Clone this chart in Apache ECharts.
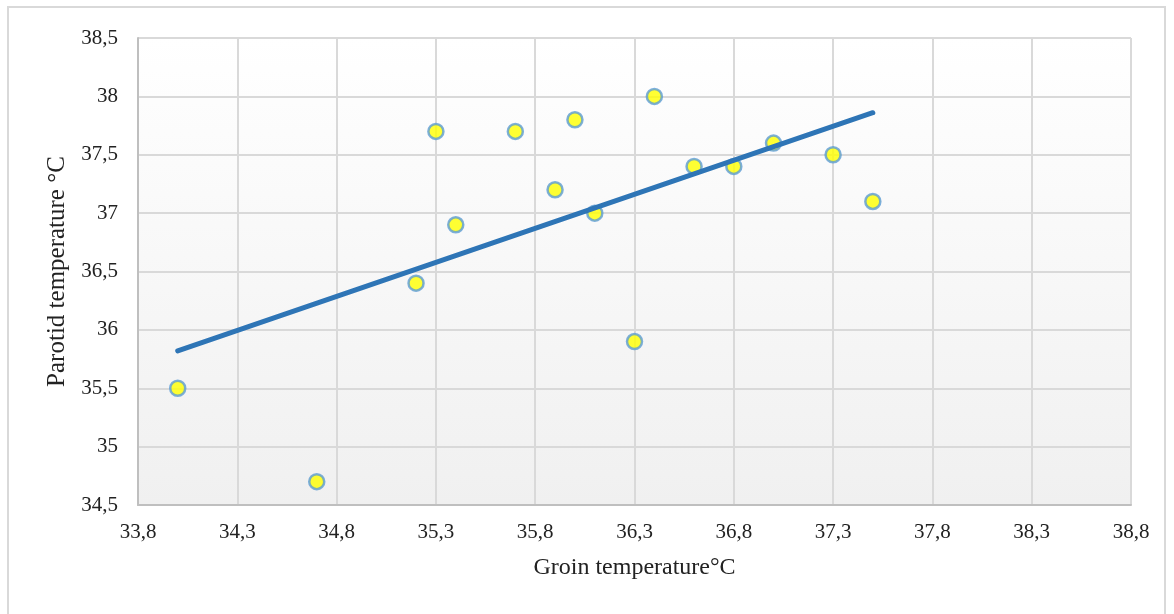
<!DOCTYPE html>
<html><head><meta charset="utf-8">
<script src="https://cdn.jsdelivr.net/npm/echarts@6/dist/echarts.min.js"></script>
<style>html,body{margin:0;padding:0;background:#fff}#frame{position:absolute;left:7px;top:6px;width:1159px;height:620px;border:2px solid #d9d9d9;box-sizing:border-box}#c{position:absolute;left:0;top:0;width:1174px;height:614px}</style>
</head><body>
<div id="frame"></div>
<div id="c"></div>
<script>
const groinTemp   = [34.0, 34.7, 35.2, 35.3, 35.4, 35.7, 35.9, 36.0, 36.1, 36.3, 36.4, 36.6, 36.8, 37.0, 37.3, 37.5];
const parotidTemp = [35.5, 34.7, 36.4, 37.7, 36.9, 37.7, 37.2, 37.8, 37.0, 35.9, 38.0, 37.4, 37.4, 37.6, 37.5, 37.1];
const trendX = [34.0, 37.5];
const trendY = [35.82, 37.86];
const xTitle = 'Groin temperature°C';
const yTitle = 'Parotid temperature °C';

const fmt = v => { let s = (Math.round(v * 10) / 10).toString(); return s.replace('.', ','); };
const font = '"Liberation Serif", "DejaVu Serif", serif';

const chart = echarts.init(document.getElementById('c'), null, {renderer: 'canvas'});
chart.setOption({
  animation: false,
  grid: {left: 138, right: 43, top: 38, bottom: 109, show: true, borderWidth: 0,
    backgroundColor: {type: 'linear', x: 0, y: 0, x2: 0, y2: 1,
      colorStops: [{offset: 0, color: '#ffffff'}, {offset: 1, color: '#f0f0f0'}]}},
  xAxis: {
    type: 'value', min: 33.8, max: 38.8, interval: 0.5,
    name: xTitle, nameLocation: 'middle', nameGap: 51,
    nameTextStyle: {fontFamily: font, fontSize: 24, color: '#222'},
    axisLine: {show: true, lineStyle: {color: '#bfbfbf', width: 2}},
    axisTick: {show: false},
    axisLabel: {formatter: fmt, fontFamily: font, fontSize: 21, color: '#222', margin: 17},
    splitLine: {show: true, lineStyle: {color: '#d9d9d9', width: 2}}
  },
  yAxis: {
    type: 'value', min: 34.5, max: 38.5, interval: 0.5,
    name: yTitle, nameLocation: 'middle', nameGap: 58,
    nameTextStyle: {fontFamily: font, fontSize: 25, color: '#222'},
    axisLine: {show: true, lineStyle: {color: '#bfbfbf', width: 2}},
    axisTick: {show: false},
    axisLabel: {formatter: fmt, fontFamily: font, fontSize: 21, color: '#222', margin: 20},
    splitLine: {show: true, lineStyle: {color: '#d9d9d9', width: 2}}
  },
  series: [
    {
      type: 'line', data: trendX.map((x, i) => [x, trendY[i]]),
      showSymbol: false, symbol: 'none',
      lineStyle: {color: '#2e75b6', width: 5, cap: 'round'}, z: 3
    },
    {
      type: 'scatter', data: groinTemp.map((x, i) => [x, parotidTemp[i]]),
      symbol: 'circle', symbolSize: 15,
      itemStyle: {color: '#ffff00', borderColor: '#5b9bd5', borderWidth: 2.5}, z: 2
    }
  ]
});
</script>
</body></html>
